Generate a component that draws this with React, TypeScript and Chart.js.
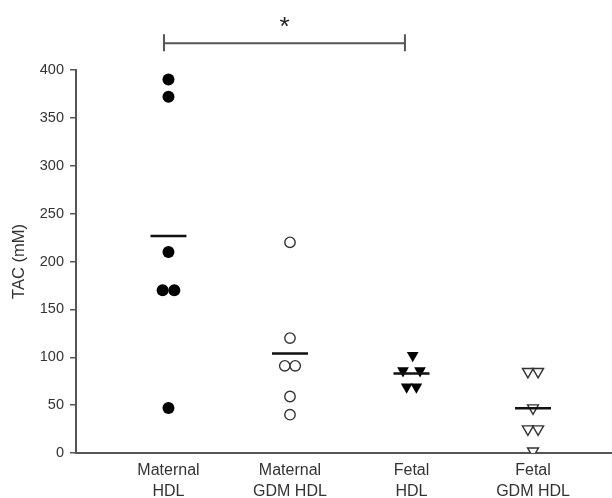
import React, { useEffect, useRef } from "react";
import { Chart, registerables } from "chart.js";

Chart.register(...registerables);

// ---- data ----
const CATEGORIES: string[][] = [
  ["Maternal", "HDL"],
  ["Maternal", "GDM HDL"],
  ["Fetal", "HDL"],
  ["Fetal", "GDM HDL"],
];
const Y_TICKS_STEP = 50;
const Y_MIN = 0;
const Y_MAX = 400;

const MATERNAL_HDL = [390, 372, 210, 170, 170, 47];
const MATERNAL_HDL_JITTER = [0, 0, 0, -0.048, 0.048, 0];

const MATERNAL_GDM_HDL = [220, 120, 91, 91, 59, 40];
const MATERNAL_GDM_HDL_JITTER = [0, 0, -0.043, 0.043, 0, 0];

const FETAL_HDL = [102, 86, 86, 69, 69];
const FETAL_HDL_JITTER = [0.01, -0.07, 0.07, -0.04, 0.04];

const FETAL_GDM_HDL = [85, 85, 47, 25, 25, 2];
const FETAL_GDM_HDL_JITTER = [-0.042, 0.042, 0, -0.042, 0.042, 0];

const MEANS = [226.6, 104, 83, 46.7];
const MEAN_HALF_WIDTH = 0.148;

// significance bracket (in data units)
const BRACKET_FROM = 0.963;
const BRACKET_TO = 2.946;
const BRACKET_Y = 428;
const BRACKET_LABEL = "*";

const FONT = "'Liberation Sans', Arial, sans-serif";

function pts(values: number[], jitter: number[], cat: number) {
  return values.map((v, i) => ({ x: cat + jitter[i], y: v }));
}

const bracketPlugin = {
  id: "bracket",
  afterDraw(chart: any) {
    const { ctx, scales } = chart;
    const xs = scales.x;
    const ys = scales.y;
    const x1 = xs.getPixelForValue(BRACKET_FROM);
    const x2 = xs.getPixelForValue(BRACKET_TO);
    const y = ys.getPixelForValue(BRACKET_Y);
    ctx.save();
    ctx.strokeStyle = "#555";
    ctx.lineWidth = 2;
    ctx.beginPath();
    ctx.moveTo(x1, y);
    ctx.lineTo(x2, y);
    ctx.moveTo(x1, y - 9);
    ctx.lineTo(x1, y + 8);
    ctx.moveTo(x2, y - 9);
    ctx.lineTo(x2, y + 8);
    ctx.stroke();
    ctx.fillStyle = "#222";
    ctx.font = `26px ${FONT}`;
    ctx.textAlign = "center";
    ctx.textBaseline = "middle";
    ctx.fillText(BRACKET_LABEL, (x1 + x2) / 2, y - 15);
    ctx.restore();
  },
};

export default function App() {
  const ref = useRef<HTMLCanvasElement | null>(null);

  useEffect(() => {
    if (!ref.current) return;
    const meanSets = MEANS.map((m, i) => ({
      type: "line" as const,
      data: [
        { x: i + 1 - MEAN_HALF_WIDTH, y: m },
        { x: i + 1 + MEAN_HALF_WIDTH, y: m },
      ],
      borderColor: "#111",
      borderWidth: 2.5,
      pointRadius: 0,
      fill: false,
    }));
    const chart = new Chart(ref.current, {
      type: "scatter",
      data: {
        datasets: [
          ...meanSets,
          {
            data: pts(MATERNAL_HDL, MATERNAL_HDL_JITTER, 1),
            pointStyle: "circle",
            pointRadius: 6,
            backgroundColor: "#000",
            borderColor: "#000",
            borderWidth: 0,
          },
          {
            data: pts(MATERNAL_GDM_HDL, MATERNAL_GDM_HDL_JITTER, 2),
            pointStyle: "circle",
            pointRadius: 5.2,
            backgroundColor: "#fff",
            borderColor: "#333",
            borderWidth: 1.4,
          },
          {
            data: pts(FETAL_HDL, FETAL_HDL_JITTER, 3),
            pointStyle: "triangle",
            rotation: 180,
            pointRadius: 6.8,
            backgroundColor: "#000",
            borderColor: "#000",
            borderWidth: 0,
          },
          {
            data: pts(FETAL_GDM_HDL, FETAL_GDM_HDL_JITTER, 4),
            pointStyle: "triangle",
            rotation: 180,
            pointRadius: 6.3,
            backgroundColor: "#fff",
            borderColor: "#333",
            borderWidth: 1.4,
          },
        ],
      } as any,
      options: {
        responsive: false,
        animation: false,
        layout: { autoPadding: false, padding: { top: 70, right: 0, bottom: 0, left: 0 } },
        plugins: {
          legend: { display: false },
          tooltip: { enabled: false },
        },
        scales: {
          x: {
            type: "linear",
            min: 0.239,
            max: 4.65,
            afterBuildTicks: (scale: any) => {
              scale.ticks = CATEGORIES.map((_, i) => ({ value: i + 1 }));
            },
            afterFit: (scale: any) => {
              scale.height = 45;
              scale.paddingLeft = 0;
              scale.paddingRight = 0;
            },
            ticks: {
              autoSkip: false,
              maxRotation: 0,
              padding: 7,
              color: "#333",
              font: { family: FONT, size: 16, lineHeight: 1.3 },
              callback: (v: any) => CATEGORIES[Math.round(Number(v)) - 1] ?? "",
            },
            grid: { display: false, drawTicks: false },
            border: { display: true, color: "#555", width: 2 },
          },
          y: {
            type: "linear",
            min: Y_MIN,
            max: Y_MAX,
            afterFit: (scale: any) => {
              scale.width = 76;
              scale.paddingLeft = 0;
              scale.paddingRight = 0;
            },
            ticks: {
              stepSize: Y_TICKS_STEP,
              padding: 6,
              color: "#333",
              font: { family: FONT, size: 14.5 },
            },
            grid: {
              display: true,
              drawOnChartArea: false,
              drawTicks: true,
              tickLength: 6,
              color: "#555",
              lineWidth: 1.5,
            },
            border: { display: true, color: "#555", width: 2 },
            title: {
              display: true,
              text: "TAC (mM)",
              color: "#333",
              font: { family: FONT, size: 16.5 },
              padding: { top: 10, bottom: 4 },
            },
          },
        },
      },
      plugins: [bracketPlugin],
    });
    return () => chart.destroy();
  }, []);

  return (
    <canvas
      ref={ref}
      width={612}
      height={498}
      style={{ position: "absolute", left: 0, top: 0, display: "block" }}
    />
  );
}
